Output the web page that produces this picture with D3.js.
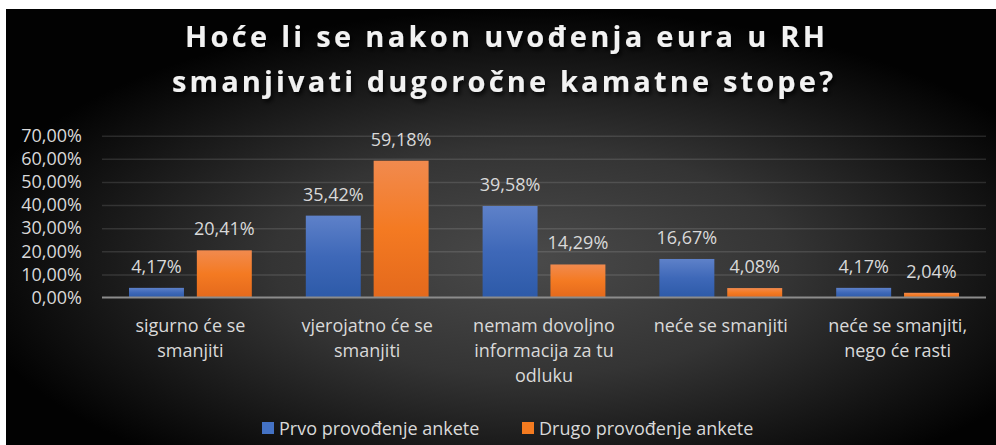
<!DOCTYPE html>
<html>
<head>
<meta charset="utf-8">
<script src="https://cdn.jsdelivr.net/npm/d3@7"></script>
<style>
  body { margin: 0; background: #fff; }
  text { font-family: "Open Sans", "Noto Sans", sans-serif; }
</style>
</head>
<body>
<div id="chart"></div>
<script>
var categories = [
  ["sigurno će se", "smanjiti"],
  ["vjerojatno će se", "smanjiti"],
  ["nemam dovoljno", "informacija za tu", "odluku"],
  ["neće se smanjiti"],
  ["neće se smanjiti,", "nego će rasti"]
];
var seriesNames = ["Prvo provođenje ankete", "Drugo provođenje ankete"];
var prvo = [4.17, 35.42, 39.58, 16.67, 4.17];
var drugo = [20.41, 59.18, 14.29, 4.08, 2.04];
var yTicks = [0, 10, 20, 30, 40, 50, 60, 70];
var titleLines = ["Hoće li se nakon uvođenja eura u RH", "smanjivati dugoročne kamatne stope?"];

var svgWidth = 996;
var svgHeight = 445;

var plot = { left: 102, right: 986, top: 135.7, bottom: 297.5 };

var hr = d3.formatLocale({ decimal: ",", thousands: ".", grouping: [3], currency: ["", "€"] });
var pct = hr.format(".2f");

var svg = d3.select("#chart")
  .append("svg")
  .attr("width", svgWidth)
  .attr("height", svgHeight);

var defs = svg.append("defs");

var bg = defs.append("radialGradient")
  .attr("id", "bg")
  .attr("cx", "53%").attr("cy", "58%").attr("r", "58%");
bg.append("stop").attr("offset", "0%").attr("stop-color", "#4a4a4a");
bg.append("stop").attr("offset", "45%").attr("stop-color", "#343434");
bg.append("stop").attr("offset", "80%").attr("stop-color", "#141414");
bg.append("stop").attr("offset", "100%").attr("stop-color", "#020202");

var gradBlue = defs.append("linearGradient").attr("id", "gBlue").attr("x1", 0).attr("y1", 0).attr("x2", 0).attr("y2", 1);
gradBlue.append("stop").attr("offset", "0%").attr("stop-color", "#5e81c9");
gradBlue.append("stop").attr("offset", "50%").attr("stop-color", "#3e68b8");
gradBlue.append("stop").attr("offset", "100%").attr("stop-color", "#2d5aa8");

var gradOrange = defs.append("linearGradient").attr("id", "gOrange").attr("x1", 0).attr("y1", 0).attr("x2", 0).attr("y2", 1);
gradOrange.append("stop").attr("offset", "0%").attr("stop-color", "#f18a4e");
gradOrange.append("stop").attr("offset", "50%").attr("stop-color", "#f47a22");
gradOrange.append("stop").attr("offset", "100%").attr("stop-color", "#e4691c");

var shadow = defs.append("filter").attr("id", "shadow")
  .attr("x", "-10%").attr("y", "-30%").attr("width", "120%").attr("height", "160%");
shadow.append("feDropShadow")
  .attr("dx", 2).attr("dy", 3).attr("stdDeviation", 2)
  .attr("flood-color", "#000").attr("flood-opacity", 0.8);

// dark slide background
svg.append("rect")
  .attr("x", 6).attr("y", 9)
  .attr("width", svgWidth - 6).attr("height", svgHeight - 9)
  .attr("fill", "url(#bg)");

// title
svg.append("g")
  .attr("filter", "url(#shadow)")
  .selectAll("text")
  .data(titleLines)
  .enter()
  .append("text")
  .attr("x", (d, i) => i == 0 ? 185 : 172)
  .attr("y", (d, i) => 47 + i * 45)
  .attr("textLength", (d, i) => i == 0 ? 640 : 661)
  .attr("lengthAdjust", "spacing")
  .attr("font-size", "29px")
  .attr("font-weight", "bold")
  .attr("fill", "#f2f2f2")
  .text(d => d);

var x0 = d3.scaleBand()
  .domain(d3.range(categories.length))
  .range([plot.left, plot.right]);

var x1 = d3.scaleBand()
  .domain([0, 1])
  .range([27, x0.bandwidth() - 27])
  .paddingInner(0.19);

var y = d3.scaleLinear()
  .domain([0, 70])
  .range([plot.bottom, plot.top]);

// gridlines
svg.append("g")
  .attr("transform", `translate(${plot.left}, 0)`)
  .call(d3.axisLeft(y).tickValues(yTicks.slice(1)).tickSize(-(plot.right - plot.left)).tickFormat(""))
  .call(g => g.select(".domain").remove())
  .call(g => g.selectAll("line").attr("stroke", "#ffffff").attr("stroke-opacity", 0.12).attr("stroke-width", 1.5));

// y axis labels
svg.append("g")
  .attr("transform", `translate(${plot.left}, 0)`)
  .call(d3.axisLeft(y).tickValues(yTicks).tickSize(0).tickPadding(20).tickFormat(d => pct(d) + "%"))
  .call(g => g.select(".domain").remove())
  .call(g => g.selectAll("text")
    .attr("font-size", "18px")
    .attr("fill", "#d9d9d9")
    .style("font-family", "'Open Sans', sans-serif"));

var rows = categories.map((c, i) => ({ i: i, values: [prvo[i], drugo[i]] }));
var fills = ["url(#gBlue)", "url(#gOrange)"];

var groups = svg.selectAll(".cat")
  .data(rows)
  .enter()
  .append("g")
  .attr("class", "cat")
  .attr("transform", d => `translate(${x0(d.i)}, 0)`);

groups.selectAll("rect")
  .data(d => d.values)
  .enter()
  .append("rect")
  .attr("x", (d, j) => x1(j))
  .attr("y", d => y(d))
  .attr("width", x1.bandwidth())
  .attr("height", d => y(0) - y(d))
  .attr("fill", (d, j) => fills[j]);

groups.selectAll(".label")
  .data(d => d.values)
  .enter()
  .append("text")
  .attr("class", "label")
  .attr("text-anchor", "middle")
  .attr("x", (d, j) => x1(j) + x1.bandwidth() / 2)
  .attr("y", d => y(d) - 15)
  .attr("font-size", "18px")
  .attr("fill", "#d9d9d9")
  .text(d => pct(d) + "%");

// zero axis line
svg.append("line")
  .attr("x1", plot.left).attr("x2", plot.right)
  .attr("y1", y(0)).attr("y2", y(0))
  .attr("stroke", "#8c8c8c")
  .attr("stroke-width", 2);

// category labels
svg.selectAll(".catLabel")
  .data(categories)
  .enter()
  .append("text")
  .attr("class", "catLabel")
  .attr("text-anchor", "middle")
  .attr("font-size", "18px")
  .attr("fill", "#d9d9d9")
  .each(function(lines, i) {
    d3.select(this).selectAll("tspan")
      .data(lines)
      .enter()
      .append("tspan")
      .attr("x", x0(i) + x0.bandwidth() / 2)
      .attr("y", (d, k) => 332 + k * 25)
      .text(d => d);
  });

// legend
var legendX = [262, 522];
var legend = svg.selectAll(".legend")
  .data(seriesNames)
  .enter()
  .append("g")
  .attr("class", "legend")
  .attr("transform", (d, i) => `translate(${legendX[i]}, 422)`);

legend.append("rect")
  .attr("width", 12).attr("height", 12)
  .attr("fill", (d, i) => i == 0 ? "#4472c4" : "#f47b20");

legend.append("text")
  .attr("x", 17)
  .attr("y", 12.5)
  .attr("font-size", "18px")
  .attr("fill", "#d9d9d9")
  .text(d => d);
</script>
</body>
</html>
